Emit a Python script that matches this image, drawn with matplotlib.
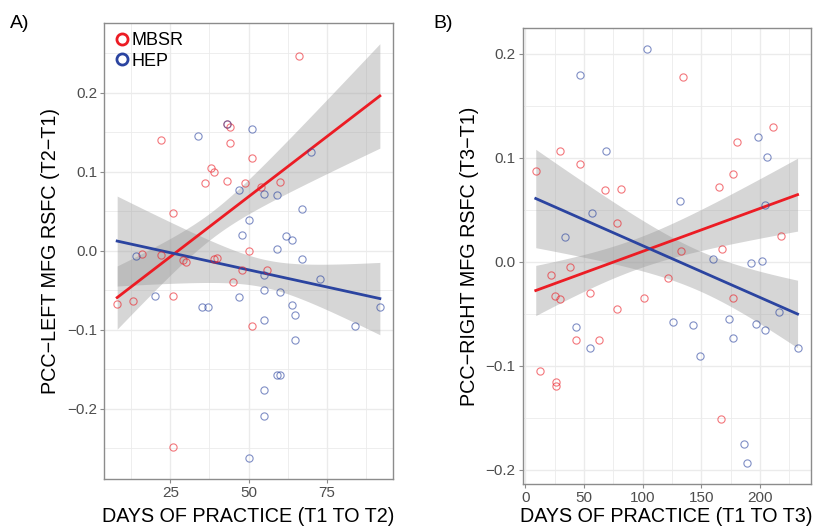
import numpy as np
import matplotlib
matplotlib.use('Agg')
import matplotlib.pyplot as plt
from matplotlib.lines import Line2D

plt.rcParams['font.family'] = ['Liberation Sans', 'DejaVu Sans']

# Panel A: days of practice T1->T2 vs PCC-left MFG RSFC (T2-T1)
a_mbsr_x = [66, 22, 43, 44, 44, 51, 38, 39, 36, 43, 49, 54, 60, 26, 50,
            16, 22, 29, 30, 39, 40, 56, 8, 13, 26, 45, 48, 51, 26]
a_mbsr_y = [0.247, 0.140, 0.160, 0.157, 0.136, 0.117, 0.105, 0.100, 0.086, 0.088,
            0.086, 0.080, 0.087, 0.048, 0.000, -0.004, -0.005, -0.012, -0.015, -0.011,
            -0.009, -0.025, -0.067, -0.064, -0.057, -0.040, -0.025, -0.096, -0.249]
a_hep_x = [34, 43, 51, 70, 47, 55, 59, 67, 50, 48, 62, 64, 59, 67, 14, 20, 35,
           37, 47, 55, 73, 55, 60, 64, 65, 92, 84, 55, 65, 59, 60, 55, 55, 50]
a_hep_y = [0.145, 0.160, 0.154, 0.125, 0.077, 0.072, 0.070, 0.053, 0.039, 0.020,
           0.019, 0.014, 0.002, -0.010, -0.007, -0.057, -0.072, -0.071, -0.059, -0.031,
           -0.036, -0.050, -0.052, -0.069, -0.082, -0.072, -0.095, -0.088, -0.113, -0.157,
           -0.158, -0.177, -0.210, -0.263]

# Panel B: days of practice T1->T3 vs PCC-right MFG RSFC (T3-T1)
b_mbsr_x = [9, 30, 134, 47, 68, 82, 78, 133, 165, 177, 180, 211, 218, 168, 38,
            22, 25, 30, 55, 78, 101, 122, 43, 63, 13, 26, 26, 177, 167]
b_mbsr_y = [0.087, 0.107, 0.178, 0.094, 0.069, 0.070, 0.037, 0.010, 0.072, 0.084,
            0.115, 0.130, 0.025, 0.012, -0.005, -0.013, -0.033, -0.036, -0.030, -0.046,
            -0.035, -0.016, -0.075, -0.075, -0.105, -0.116, -0.120, -0.035, -0.151]
b_hep_x = [47, 104, 69, 57, 34, 132, 198, 206, 204, 160, 192, 202, 43, 55, 126,
           143, 149, 174, 177, 197, 204, 216, 232, 186, 189]
b_hep_y = [0.180, 0.205, 0.107, 0.047, 0.024, 0.058, 0.120, 0.101, 0.055, 0.003,
           -0.001, 0.001, -0.063, -0.083, -0.058, -0.061, -0.091, -0.055, -0.073, -0.060,
           -0.066, -0.048, -0.083, -0.175, -0.194]

RED = '#EC1C24'
BLUE = '#2B44A0'
GRID = '#EBEBEB'
FRAME = '#8C8C8C'


def lm_band(x, y, xs):
    # linear fit with a +/- 1 standard error band
    x = np.asarray(x, float)
    y = np.asarray(y, float)
    n = len(x)
    b, a = np.polyfit(x, y, 1)
    resid = y - (a + b * x)
    s = np.sqrt(np.sum(resid**2) / (n - 2))
    sxx = np.sum((x - x.mean())**2)
    fit = a + b * xs
    se = s * np.sqrt(1 / n + (xs - x.mean())**2 / sxx)
    return fit, fit - se, fit + se


def panel(ax, mx, my, hx, hy, xticks, yticks, xlabel, ylabel, xpad):
    allx = np.array(mx + hx, float)
    xs = np.linspace(allx.min(), allx.max(), 200)
    lo_all, hi_all = [], []
    for x, y, c in [(mx, my, RED), (hx, hy, BLUE)]:
        fit, lo, hi = lm_band(x, y, xs)
        ax.fill_between(xs, lo, hi, color='#999999', alpha=0.4, lw=0, zorder=2)
        ax.plot(xs, fit, color=c, lw=2, zorder=3)
        lo_all.append(lo.min())
        hi_all.append(hi.max())
    for x, y, c in [(mx, my, RED), (hx, hy, BLUE)]:
        ax.plot(x, y, 'o', mfc='none', mec=c, ms=5.2, mew=0.8, alpha=0.6, zorder=4)
    ymin = min(min(my), min(hy), *lo_all)
    ymax = max(max(my), max(hy), *hi_all)
    xr = allx.max() - allx.min()
    yr = ymax - ymin
    dx = xticks[1] - xticks[0]
    dy = yticks[1] - yticks[0]
    ax.set_xticks(xticks)
    ax.set_yticks(yticks)
    ax.set_xticks([t + dx / 2 for t in [xticks[0] - dx] + list(xticks)], minor=True)
    ax.set_yticks([t + dy / 2 for t in [yticks[0] - dy] + list(yticks)], minor=True)
    ax.set_xlim(allx.min() - 0.05 * xr, allx.max() + 0.05 * xr)
    ax.set_ylim(ymin - 0.05 * yr, ymax + 0.05 * yr)
    ax.grid(True, which='major', color=GRID, lw=1.0, zorder=0)
    ax.grid(True, which='minor', color=GRID, lw=0.6, zorder=0)
    ax.set_axisbelow(True)
    for s in ax.spines.values():
        s.set_color(FRAME)
        s.set_linewidth(1.0)
    ax.tick_params(which='major', length=3, color=FRAME, labelsize=11, labelcolor='#4D4D4D', pad=2)
    ax.tick_params(which='minor', length=0)
    ax.set_xlabel(xlabel, fontsize=14.2, labelpad=xpad)
    ax.set_ylabel(ylabel, fontsize=14.2, labelpad=5)


fig = plt.figure(figsize=(8.14, 5.27), dpi=100)
ax1 = fig.add_axes([0.1278, 0.0911, 0.355, 0.8653])
ax2 = fig.add_axes([0.6421, 0.0816, 0.3538, 0.8653])

panel(ax1, a_mbsr_x, a_mbsr_y, a_hep_x, a_hep_y,
      [25, 50, 75], [-0.2, -0.1, 0.0, 0.1, 0.2],
      'DAYS OF PRACTICE (T1 TO T2)', 'PCC\u2212LEFT MFG RSFC (T2\u2212T1)', 5)
panel(ax2, b_mbsr_x, b_mbsr_y, b_hep_x, b_hep_y,
      [0, 50, 100, 150, 200], [-0.2, -0.1, 0.0, 0.1, 0.2],
      'DAYS OF PRACTICE (T1 TO T3)', 'PCC\u2212RIGHT MFG RSFC (T3\u2212T1)', 1.5)

handles = [Line2D([], [], ls='none', marker='o', mfc='none', mec=RED, ms=8, mew=2, label='MBSR'),
           Line2D([], [], ls='none', marker='o', mfc='none', mec=BLUE, ms=8, mew=2, label='HEP')]
ax1.legend(handles=handles, loc='upper left', frameon=False, fontsize=13,
           handletextpad=0.0, labelspacing=0.2, borderaxespad=0.1, handlelength=1.0,
           borderpad=0.4)

fig.text(0.012, 0.955, 'A)', fontsize=14, va='center')
fig.text(0.532, 0.955, 'B)', fontsize=14, va='center')

fig.savefig('out.png', dpi=100)
